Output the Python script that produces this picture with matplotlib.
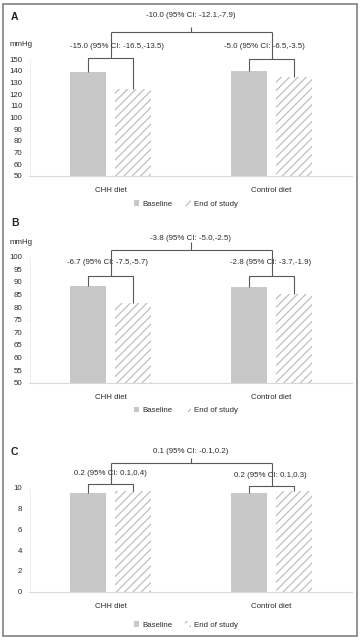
import matplotlib
matplotlib.use("Agg")
import matplotlib.pyplot as plt
from matplotlib.patches import Patch, Rectangle

plt.rcParams['font.family'] = ['Liberation Sans', 'DejaVu Sans']
plt.rcParams['hatch.linewidth'] = 0.8

# data
groups = ['CHH diet', 'Control diet']
series = ['Baseline', 'End of study']

sbp_base = [139.0, 139.5]
sbp_end = [124.0, 134.5]
dbp_base = [88.5, 87.8]
dbp_end = [81.8, 85.0]
c_base = [9.5, 9.5]
c_end = [9.7, 9.7]

sbp_labels = ['-15.0 (95% CI: -16.5,-13.5)', '-5.0 (95% CI: -6.5,-3.5)']
sbp_diff = '-10.0 (95% CI: -12.1,-7.9)'
dbp_labels = ['-6.7 (95% CI: -7.5,-5.7)', '-2.8 (95% CI: -3.7,-1.9)']
dbp_diff = '-3.8 (95% CI: -5.0,-2.5)'
c_labels = ['0.2 (95% CI: 0.1,0.4)', '0.2 (95% CI: 0.1,0.3)']
c_diff = '0.1 (95% CI: -0.1,0.2)'

W, H = 360, 640
fig = plt.figure(figsize=(3.6, 6.4), dpi=100)

GRAY = '#c8c8c8'
HATCH = '#b8b8b8'
LINE = '#595959'
TXT = '#2b2b2b'
FS = 5.7


def panel(top_px, bot_px, ylim, yticks, base, end, labels, diff,
          sub_lv, txt_lv, top_lv, tick_lv, top_txt_lv, txt_dx, letter,
          letter_y, unit_y, legend_y):
    ax = fig.add_axes([30 / W, 1 - bot_px / H, 322 / W, (bot_px - top_px) / H])
    x = [0, 1]
    off, bw = 0.14, 0.224
    floor = ylim[0]
    ax.bar([i - off for i in x], [v - floor for v in base], bw, bottom=floor,
           color=GRAY, linewidth=0)
    ax.bar([i + off for i in x], [v - floor for v in end], bw, bottom=floor,
           color='white', edgecolor=HATCH, hatch='////', linewidth=0)
    ax.set_xlim(-0.5, 1.5)
    ax.set_ylim(*ylim)
    ax.set_yticks(yticks)
    ax.set_xticks(x)
    ax.set_xticklabels(groups)
    ax.tick_params(axis='x', length=0, pad=8, labelsize=FS, labelcolor=TXT)
    ax.tick_params(axis='y', length=2, pad=3.5, labelsize=FS, labelcolor=TXT,
                   color='#eeeeee', width=0.5)
    for s in ['top', 'right']:
        ax.spines[s].set_visible(False)
    ax.spines['left'].set_color('#eeeeee')
    ax.spines['left'].set_linewidth(0.6)
    ax.spines['bottom'].set_color('#d9d9d9')
    ax.spines['bottom'].set_linewidth(0.8)

    # brackets with the change labels
    kw = dict(color=LINE, lw=0.8, clip_on=False, solid_capstyle='butt')
    for i in x:
        lv = sub_lv[i]
        ax.plot([i - off, i - off, i + off, i + off],
                [base[i], lv, lv, end[i]], **kw)
        ax.text(i + txt_dx[i], txt_lv[i], labels[i], ha='center',
                va='center', fontsize=FS, color=TXT)
        ax.plot([i, i], [lv, top_lv], **kw)
    ax.plot([0, 1], [top_lv, top_lv], **kw)
    ax.plot([0.5, 0.5], [top_lv, tick_lv], **kw)
    ax.text(0.5, top_txt_lv, diff, ha='center', va='center', fontsize=FS,
            color=TXT)

    fig.text(11 / W, 1 - letter_y / H, letter, fontsize=7.5,
             fontweight='bold', va='center', ha='left', color='#222222')
    if unit_y is not None:
        fig.text(10 / W, 1 - unit_y / H, 'mmHg', fontsize=FS, va='center',
                 ha='left', color=TXT)

    handles = [Patch(facecolor=GRAY, linewidth=0),
               Patch(facecolor='white', edgecolor=HATCH, hatch='////',
                     linewidth=0)]
    fig.legend(handles, series, loc='center', ncol=2, frameon=False,
               bbox_to_anchor=(186 / W, 1 - legend_y / H), fontsize=FS,
               handlelength=0.7, handleheight=0.7, handletextpad=0.4,
               columnspacing=1.6, labelcolor=TXT)
    return ax


panel(59, 176, (50, 150), range(50, 151, 10), sbp_base, sbp_end,
      sbp_labels, sbp_diff, [151.1, 150.0], [161, 161], 173, 177, 187,
      [0.04, -0.045], 'A', 17, 45, 204)

panel(256.7, 382.7, (50, 100), range(50, 101, 5), dbp_base, dbp_end,
      dbp_labels, dbp_diff, [92.5, 92.5], [97.5, 97.5], 102.7, 105.8, 107.4,
      [-0.02, -0.005], 'B', 223, 243, 410.7)

panel(487.7, 591.7, (0, 10), range(0, 11, 2), c_base, c_end,
      c_labels, c_diff, [10.36, 10.2], [11.4, 11.2], 12.4, 12.9, 13.46,
      [0.0, -0.005], 'C', 452, None, 625)

fig.patches.append(Rectangle((3 / W, 4 / H), 354 / W, 632 / H,
                             transform=fig.transFigure, fill=False,
                             edgecolor='#808080', linewidth=1.2))

fig.savefig('out.png', dpi=100)
